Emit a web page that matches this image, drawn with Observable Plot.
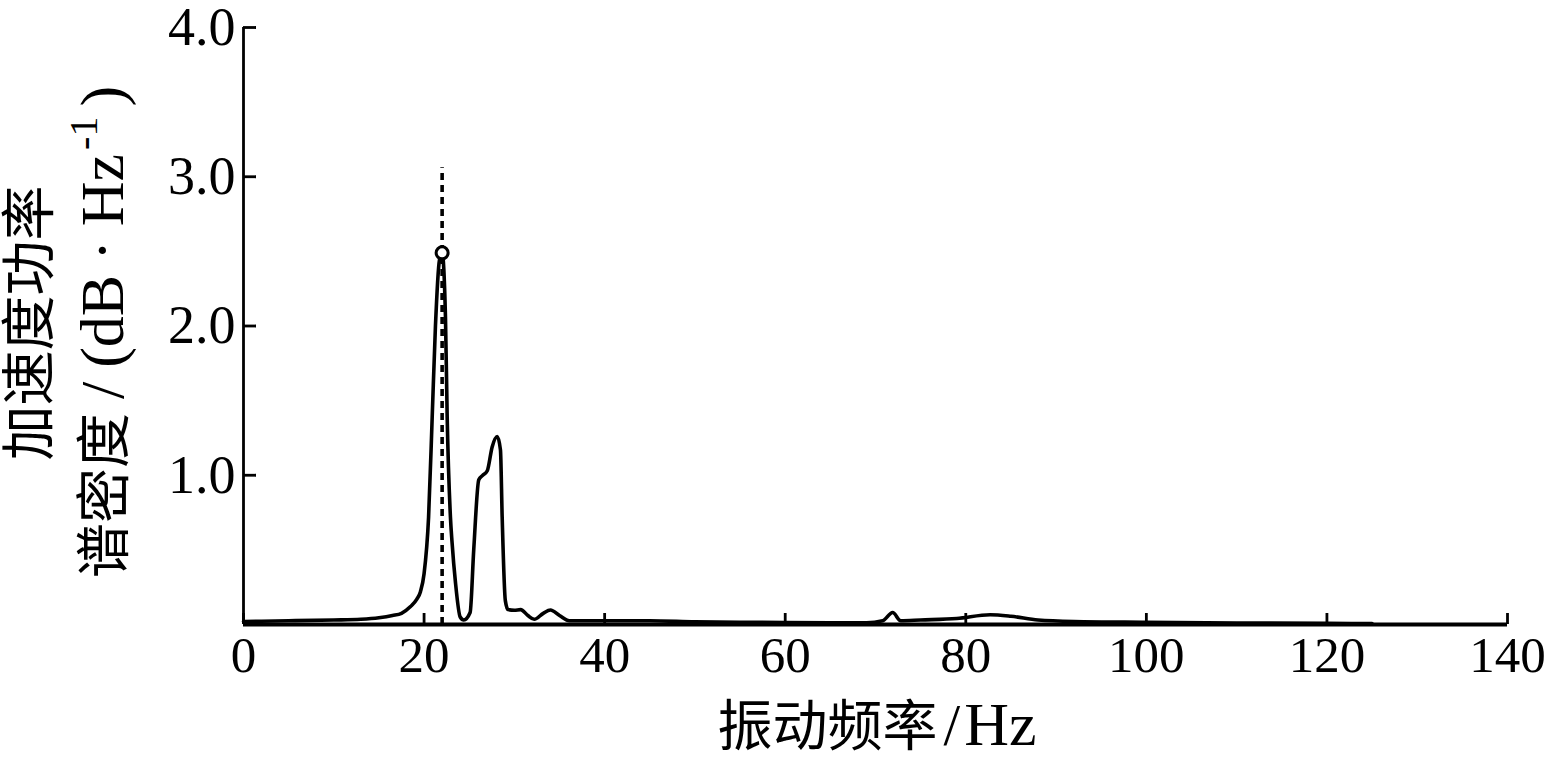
<!DOCTYPE html>
<html><head><meta charset="utf-8">
<script src="https://cdn.jsdelivr.net/npm/d3@7"></script>
<script src="https://cdn.jsdelivr.net/npm/@observablehq/plot@0.6"></script>
<style>html,body{margin:0;padding:0;background:#fff;overflow:hidden}</style>
</head><body><div id="chart"></div>
<script>
// Frequency (Hz) and acceleration PSD values
const freq = [0, 2, 5, 10, 13, 15, 16.5, 17.5, 18.5, 19.2, 19.6, 20.0, 20.5, 20.9, 21.26, 21.7, 22.0, 22.37, 22.56, 22.92, 23.1, 23.48, 24.0, 24.4, 25.1, 25.5, 26.06, 26.5, 27.0, 27.54, 28.1, 28.46, 28.65, 29.0, 29.3, 30.0, 30.7, 31.5, 32.2, 33.2, 34.0, 35.0, 36.1, 40, 45, 50, 55, 60, 65, 69, 70.8, 71.9, 72.8, 75, 79, 82.7, 85, 88, 92, 100, 110, 120, 125];
const psd  = [0.02, 0.022, 0.025, 0.03, 0.035, 0.045, 0.06, 0.075, 0.12, 0.17, 0.22, 0.34, 0.72, 1.39, 2.0, 2.44, 2.49, 2.06, 1.39, 0.72, 0.55, 0.28, 0.05, 0.03, 0.08, 0.5, 0.97, 1.0, 1.03, 1.19, 1.26, 1.17, 0.72, 0.16, 0.1, 0.095, 0.1, 0.06, 0.035, 0.075, 0.097, 0.06, 0.025, 0.025, 0.025, 0.018, 0.015, 0.013, 0.012, 0.012, 0.025, 0.08, 0.025, 0.03, 0.04, 0.065, 0.055, 0.03, 0.02, 0.015, 0.01, 0.008, 0.006];
const xTicks = [0, 20, 40, 60, 80, 100, 120, 140];
const yTicks = [1, 2, 3, 4];
const peakFreq = [22];
const peakValue = [2.49];
const markerTop = [3.06];
const xLabelParts = ["振动频率", "/", "Hz"];
const yLabelLine1 = "加速度功率";
const yLabelLine2Parts = ["谱密度", "/", "(dB", "·", "Hz", "-1", ")"];

const data = freq.map((f, i) => ({f, v: psd[i]}));
const peak = peakFreq.map((f, i) => ({f, v: peakValue[i], top: markerTop[i]}));

const serif = "'Liberation Serif','Times New Roman',serif";
const cjk = "'Noto Sans CJK SC'";

const chart = Plot.plot({
  width: 1551,
  height: 762,
  marginLeft: 243,
  marginRight: 44,
  marginTop: 27,
  marginBottom: 138,
  style: {fontFamily: serif, background: "#fff", color: "#000"},
  x: {domain: [0, 140]},
  y: {domain: [0, 4]},
  marks: [
    Plot.ruleX(peak, {x: "f", y1: 0, y2: "top", stroke: "#000", strokeWidth: 3.6, strokeDasharray: "7,5"}),
    Plot.line(data, {x: "f", y: "v", curve: "monotone-x", stroke: "#000", strokeWidth: 3.6}),
    Plot.dot(peak, {x: "f", y: "v", r: 6, stroke: "#000", strokeWidth: 3, fill: "#fff"}),
    Plot.ruleX([0], {stroke: "#000", strokeWidth: 2.8}),
    Plot.ruleY([0], {stroke: "#000", strokeWidth: 4}),
    Plot.axisX(xTicks, {tickSize: -11, text: null, strokeWidth: 2.8, label: null}),
    Plot.axisX(xTicks, {tickSize: 0, tickPadding: 11, fontSize: 51, label: null, fill: "#000"}),
    Plot.axisY(yTicks, {tickSize: -13, text: null, strokeWidth: 2.8, label: null}),
    Plot.axisY(yTicks, {tickSize: 0, tickPadding: 8, fontSize: 54, label: null, tickFormat: d3.format(".1f"), fill: "#000"})
  ]
});
document.getElementById("chart").appendChild(chart);

const svg = d3.select(chart);
// x axis title
const xt = svg.append("text")
  .attr("x", 877).attr("y", 745)
  .attr("text-anchor", "middle")
  .attr("fill", "#000");
xt.append("tspan").attr("font-family", cjk).attr("font-size", 55).text(xLabelParts[0]);
xt.append("tspan").attr("font-family", serif).attr("font-size", 60).attr("dx", 6).text(xLabelParts[1]);
xt.append("tspan").attr("font-family", serif).attr("font-size", 62).attr("dx", 4).text(xLabelParts[2]);

// y axis title line 1
svg.append("text")
  .attr("transform", "translate(48,323) rotate(-90)")
  .attr("text-anchor", "middle")
  .attr("font-family", cjk)
  .attr("font-size", 55)
  .attr("fill", "#000")
  .text(yLabelLine1);

// y axis title line 2
const y2 = svg.append("text")
  .attr("transform", "translate(123,332) rotate(-90)")
  .attr("text-anchor", "middle")
  .attr("fill", "#000");
y2.append("tspan").attr("font-family", cjk).attr("font-size", 55).text(yLabelLine2Parts[0]);
y2.append("tspan").attr("font-family", serif).attr("font-size", 62).attr("dx", 14).text(yLabelLine2Parts[1]);
y2.append("tspan").attr("font-family", serif).attr("font-size", 62).attr("dx", 14).text(yLabelLine2Parts[2]);
y2.append("tspan").attr("font-family", serif).attr("font-size", 62).attr("dx", 14).text(yLabelLine2Parts[3]);
y2.append("tspan").attr("font-family", serif).attr("font-size", 62).attr("dx", 14).text(yLabelLine2Parts[4]);
y2.append("tspan").attr("font-family", serif).attr("font-size", 40).attr("dx", 4).attr("dy", -26).text(yLabelLine2Parts[5]);
y2.append("tspan").attr("font-family", serif).attr("font-size", 62).attr("dx", 10).attr("dy", 26).text(yLabelLine2Parts[6]);
</script>
</body></html>
